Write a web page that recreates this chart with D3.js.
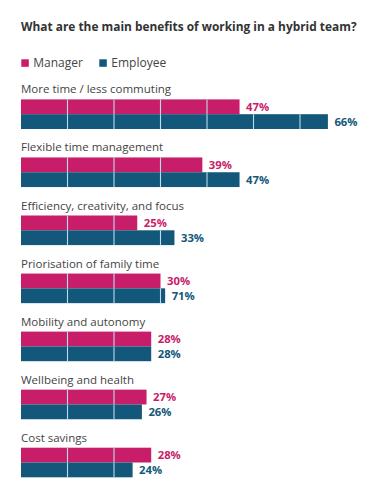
<!DOCTYPE html>
<html>
<head>
<meta charset="utf-8">
<script src="https://cdn.jsdelivr.net/npm/d3@7/dist/d3.min.js"></script>
<style>
  html, body { margin: 0; padding: 0; background: #fff; }
  svg { display: block; font-family: "Open Sans", sans-serif; }
</style>
</head>
<body>
<svg id="chart" width="387" height="500"></svg>
<script>
const title = "What are the main benefits of working in a hybrid team?";
const categories = [
  "More time / less commuting",
  "Flexible time management",
  "Efficiency, creativity, and focus",
  "Priorisation of family time",
  "Mobility and autonomy",
  "Wellbeing and health",
  "Cost savings"
];
const seriesNames = ["Manager", "Employee"];
const managerValues = [47, 39, 25, 30, 28, 27, 28];
const employeeValues = [66, 47, 33, 31, 28, 26, 24];
// printed labels (the original prints 71% on a bar that is drawn at ~31%)
const managerLabels = ["47%", "39%", "25%", "30%", "28%", "27%", "28%"];
const employeeLabels = ["66%", "47%", "33%", "71%", "28%", "26%", "24%"];
const gridTicks = [10, 20, 30, 40, 50, 60, 70, 80, 90];

const colors = { Manager: "#c81d69", Employee: "#13577a" };

const svg = d3.select("#chart");

const x = d3.scaleLinear().domain([0, 100]).range([21, 486]);
const yGroup = d3.scaleBand().domain(categories).range([83.2, 83.2 + 7 * 58.05]).paddingInner(0);
const ySeries = d3.scaleBand().domain(seriesNames).range([16.2, 45.8]);

// title
svg.append("text")
  .attr("x", 21).attr("y", 30.5)
  .attr("font-size", 11.9).attr("font-weight", 700)
  .attr("fill", "#333")
  .text(title);

// legend
const legend = svg.append("g");
const legendX = [21.3, 99.3];
seriesNames.forEach((s, i) => {
  legend.append("rect")
    .attr("x", legendX[i]).attr("y", 59.3)
    .attr("width", 7.5).attr("height", 7.5)
    .attr("fill", colors[s]);
  legend.append("text")
    .attr("x", legendX[i] + 12).attr("y", 67.3)
    .attr("font-size", 12).attr("fill", "#444")
    .text(s);
});

const data = categories.map((c, i) => ({
  category: c,
  series: [
    { name: "Manager", value: managerValues[i], label: managerLabels[i] },
    { name: "Employee", value: employeeValues[i], label: employeeLabels[i] }
  ]
}));

const groups = svg.selectAll("g.group").data(data).enter().append("g")
  .attr("class", "group")
  .attr("transform", d => `translate(0,${yGroup(d.category)})`);

groups.append("text")
  .attr("x", 21).attr("y", 10.2)
  .attr("font-size", 11.5).attr("fill", "#444")
  .text(d => d.category);

const bars = groups.selectAll("g.bar").data(d => d.series).enter().append("g").attr("class", "bar");

bars.append("rect")
  .attr("x", x(0))
  .attr("y", d => ySeries(d.name))
  .attr("width", d => x(d.value) - x(0))
  .attr("height", ySeries.bandwidth())
  .attr("fill", d => colors[d.name]);

bars.each(function(d) {
  const g = d3.select(this);
  gridTicks.filter(t => t < d.value).forEach(t => {
    g.append("line")
      .attr("x1", x(t)).attr("x2", x(t))
      .attr("y1", ySeries(d.name)).attr("y2", ySeries(d.name) + ySeries.bandwidth())
      .attr("stroke", "#b9dcf0").attr("stroke-width", 1.1);
  });
});

bars.append("text")
  .attr("x", d => x(d.value) + 6.5)
  .attr("y", d => ySeries(d.name) + ySeries.bandwidth() / 2 + 4.1)
  .attr("font-size", 11.3).attr("font-weight", 700)
  .attr("fill", d => colors[d.name])
  .text(d => d.label);
</script>
</body>
</html>
